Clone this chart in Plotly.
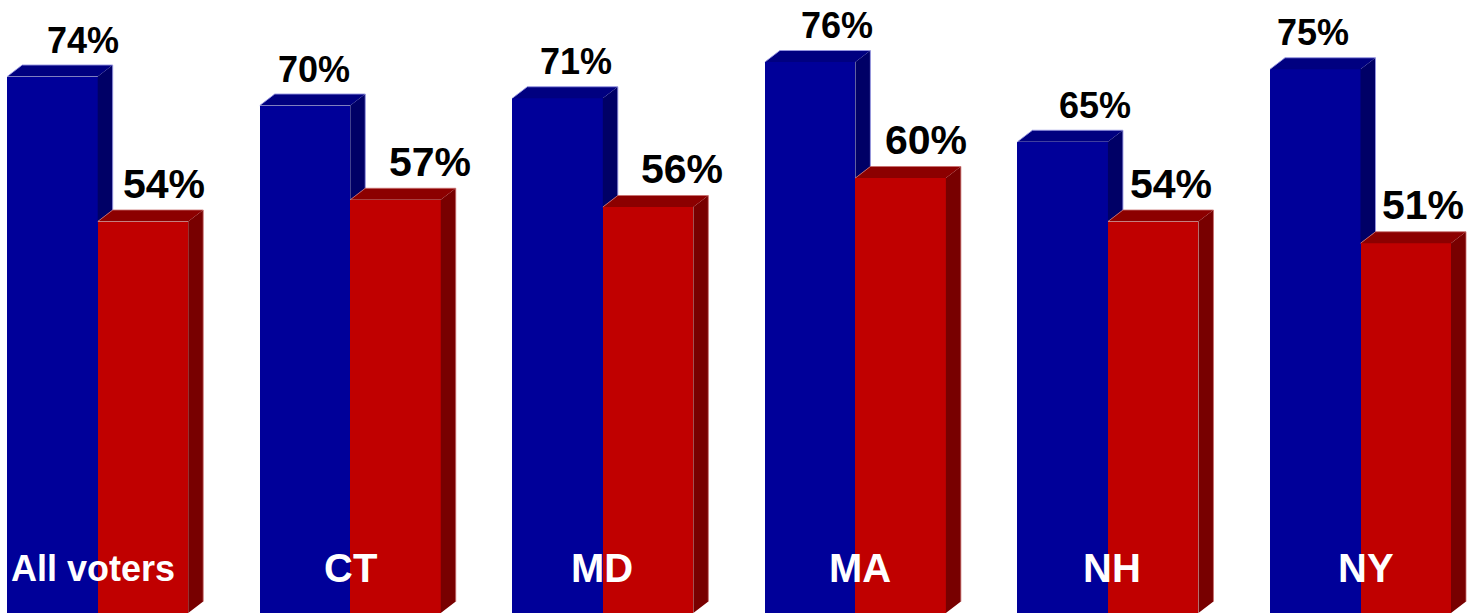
import plotly.graph_objects as go

# ---------------- data ----------------
categories = ["All voters", "CT", "MD", "MA", "NH", "NY"]
blue_values = [74, 70, 71, 76, 65, 75]
red_values = [54, 57, 56, 60, 54, 51]

# ---------------- styles / geometry (pixels) ----------------
W, H = 1467, 613
GROUP_PX = 252.56          # distance between group centres
FIRST_CENTER_PX = 97.7     # pixel x of first group centre
BAR_PX = 90.5              # width of one bar front face
PX_PER_PCT = 7.25          # vertical scale
DEPTH_X_PX = 15            # 3-D depth offset
DEPTH_Y_PX = 11.5

BLUE_FRONT, BLUE_TOP, BLUE_SIDE = "#000099", "#000080", "#000066"
RED_FRONT, RED_TOP, RED_SIDE = "#C00000", "#8C0000", "#780000"
BLUE_EDGE, RED_EDGE = "rgba(150,150,225,0.9)", "rgba(200,110,110,0.8)"

FONT = "Liberation Sans, Arial, sans-serif"
BLUE_LABEL_SIZE, RED_LABEL_SIZE = 36, 41
CAT_SIZES = [36, 40, 40, 40, 40, 40]
# label nudges (pixels)
blue_label_dx = [31, 9, 18, 27, 32, -2]
red_label_dx = [21, 34, 34, 25, 18, 17]
cat_label_dx = [-5, 0, -1, 5, 4, 5]

# ---------------- derived scales ----------------
ux = 1.0 / GROUP_PX
x_range = [-FIRST_CENTER_PX * ux, (W - FIRST_CENTER_PX) * ux]
y_range = [0, H / PX_PER_PCT]
bw = BAR_PX * ux
dx = DEPTH_X_PX * ux
dy = DEPTH_Y_PX / PX_PER_PCT

groups = list(range(len(categories)))

fig = go.Figure()


def add_series(values, offset, front, top, side, edge, floors):
    xc = [g + offset for g in groups]
    fig.add_trace(go.Bar(x=xc, y=values, width=bw, marker=dict(color=front, line=dict(width=0)),
                         hoverinfo="skip", showlegend=False))
    tx, ty, sx, sy, ex, ey = [], [], [], [], [], []
    for c, v, f in zip(xc, values, floors):
        x0, x1 = c - bw / 2, c + bw / 2
        tx += [x0, x0 + dx, x1 + dx, x1, x0, None]
        ty += [v, v + dy, v + dy, v, v, None]
        sx += [x1, x1 + dx, x1 + dx, x1, x1, None]
        sy += [f, f + dy, v + dy, v, f, None]
        ex += [x0, x0 + dx, x1 + dx, x1 + dx, None]
        ey += [v, v + dy, v + dy, f + dy, None]
    fig.add_trace(go.Scatter(x=sx, y=sy, mode="lines", fill="toself", fillcolor=side,
                             line=dict(width=0, color=side), hoverinfo="skip", showlegend=False))
    fig.add_trace(go.Scatter(x=tx, y=ty, mode="lines", fill="toself", fillcolor=top,
                             line=dict(width=0, color=top), hoverinfo="skip", showlegend=False))
    fig.add_trace(go.Scatter(x=ex, y=ey, mode="lines", line=dict(width=1, color=edge),
                             hoverinfo="skip", showlegend=False))
    return xc


blue_x = add_series(blue_values, -bw / 2, BLUE_FRONT, BLUE_TOP, BLUE_SIDE, BLUE_EDGE,
                    [min(b, r) for b, r in zip(blue_values, red_values)])
red_x = add_series(red_values, bw / 2, RED_FRONT, RED_TOP, RED_SIDE, RED_EDGE,
                   [0] * len(red_values))

annotations = []
GAP_PX = 22.5  # baseline above front top


def shift_for(size, gap):
    return gap - (0.212 * size + 1)


for c, v, ddx in zip(blue_x, blue_values, blue_label_dx):
    annotations.append(dict(x=c, y=v, text=f"<b>{v}%</b>", showarrow=False, xanchor="center",
                            yanchor="bottom", xshift=ddx, yshift=shift_for(BLUE_LABEL_SIZE, GAP_PX),
                            font=dict(family=FONT, size=BLUE_LABEL_SIZE, color="black")))
for c, v, ddx in zip(red_x, red_values, red_label_dx):
    annotations.append(dict(x=c, y=v, text=f"<b>{v}%</b>", showarrow=False, xanchor="center",
                            yanchor="bottom", xshift=ddx, yshift=shift_for(RED_LABEL_SIZE, GAP_PX),
                            font=dict(family=FONT, size=RED_LABEL_SIZE, color="black")))
for g, name, size, ddx in zip(groups, categories, CAT_SIZES, cat_label_dx):
    annotations.append(dict(x=g, y=0, text=f"<b>{name}</b>", showarrow=False, xanchor="center",
                            yanchor="bottom", xshift=ddx, yshift=shift_for(size, 30.5),
                            font=dict(family=FONT, size=size, color="white")))

fig.update_layout(
    width=W, height=H,
    margin=dict(l=0, r=0, t=0, b=0),
    paper_bgcolor="white", plot_bgcolor="white",
    barmode="overlay", bargap=0,
    xaxis=dict(range=x_range, visible=False, showgrid=False, zeroline=False, fixedrange=True),
    yaxis=dict(range=y_range, visible=False, showgrid=False, zeroline=False, fixedrange=True),
    annotations=annotations,
    showlegend=False,
)

fig.write_html("out.html", config={"displayModeBar": False})
